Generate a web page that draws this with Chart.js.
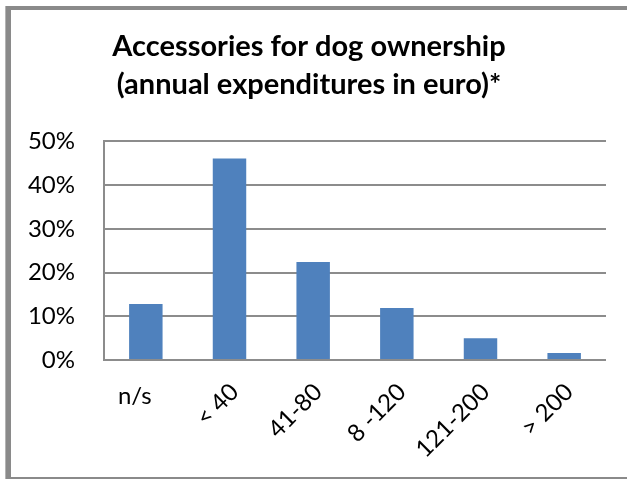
<!DOCTYPE html>
<html>
<head>
<meta charset="utf-8">
<script src="https://cdn.jsdelivr.net/npm/chart.js@4.4.1/dist/chart.umd.min.js"></script>
<style>
  body { margin: 0; background: #ffffff; }
  #wrap { width: 627px; height: 479px; }
</style>
</head>
<body>
<div id="wrap"><canvas id="chart" width="627" height="479"></canvas></div>
<script>
// values
const categories = ['n/s', '< 40', '41-80', '8 -120', '121-200', '> 200'];
const shares = [12.8, 46.1, 22.4, 11.9, 5.0, 1.6];
const yTicks = [0, 10, 20, 30, 40, 50];
const titleLines = ['Accessories for dog ownership', '(annual expenditures in euro)*'];

const labelFont = '24px Lato';

// grey frame round the picture, as in the screenshot
const framePlugin = {
  id: 'frame',
  beforeDraw: (chart) => {
    const ctx = chart.ctx;
    ctx.save();
    ctx.fillStyle = '#ffffff';
    ctx.fillRect(0, 0, chart.width, chart.height);
    ctx.fillStyle = '#8a8a8a';
    ctx.fillRect(5, 6, 6, chart.height - 6);   // left bar
    ctx.fillRect(5, 6, chart.width - 5, 4);    // top bar
    ctx.fillRect(5, chart.height - 2, chart.width - 5, 2); // bottom line
    ctx.fillStyle = '#b4b4b4';
    ctx.fillRect(5, 6, 1, chart.height - 6);
    ctx.restore();
  }
};

// category labels: first one flat, the rest turned 45 degrees
const xLabelPlugin = {
  id: 'xLabels',
  afterDraw: (chart) => {
    const ctx = chart.ctx;
    const xScale = chart.scales.x;
    const base = chart.chartArea.bottom;
    ctx.save();
    ctx.font = labelFont;
    ctx.fillStyle = '#000000';
    categories.forEach((label, i) => {
      const cx = xScale.getPixelForValue(i);
      if (i === 0) {
        ctx.textAlign = 'center';
        ctx.textBaseline = 'middle';
        ctx.fillText(label, cx - 11, base + 36);
      } else {
        ctx.save();
        ctx.translate(cx + 5, base + 28);
        ctx.rotate(-Math.PI / 4);
        ctx.textAlign = 'right';
        ctx.textBaseline = 'middle';
        ctx.fillText(label, 0, 0);
        ctx.restore();
      }
    });
    ctx.restore();
  }
};

new Chart(document.getElementById('chart'), {
  type: 'bar',
  data: {
    labels: categories,
    datasets: [{
      data: shares,
      backgroundColor: '#4f81bd',
      borderWidth: 0,
      categoryPercentage: 1.0,
      barPercentage: 0.4
    }]
  },
  options: {
    responsive: false,
    animation: false,
    layout: {
      padding: { left: 12, right: 21, top: 0, bottom: 0 }
    },
    plugins: {
      legend: { display: false },
      tooltip: { enabled: false },
      title: {
        display: true,
        text: titleLines,
        color: '#000000',
        font: { family: 'Lato', size: 29, weight: 'bold', lineHeight: 1.3 },
        padding: { top: 28, bottom: 38 }
      }
    },
    scales: {
      x: {
        grid: { display: false },
        border: { display: false },
        ticks: { display: false },
        afterFit: (scale) => { scale.height = 119; }
      },
      y: {
        min: 0,
        max: 50,
        afterBuildTicks: (scale) => { scale.ticks = yTicks.map(v => ({ value: v })); },
        grid: { color: '#8c8c8c', lineWidth: 2, drawTicks: false },
        border: { display: true, color: '#8c8c8c', width: 2 },
        ticks: {
          color: '#000000',
          font: { family: 'Lato', size: 24 },
          padding: 29,
          callback: (v) => v + '%'
        },
        afterFit: (scale) => { scale.width = 92; }
      }
    }
  },
  plugins: [framePlugin, xLabelPlugin]
});
</script>
</body>
</html>
